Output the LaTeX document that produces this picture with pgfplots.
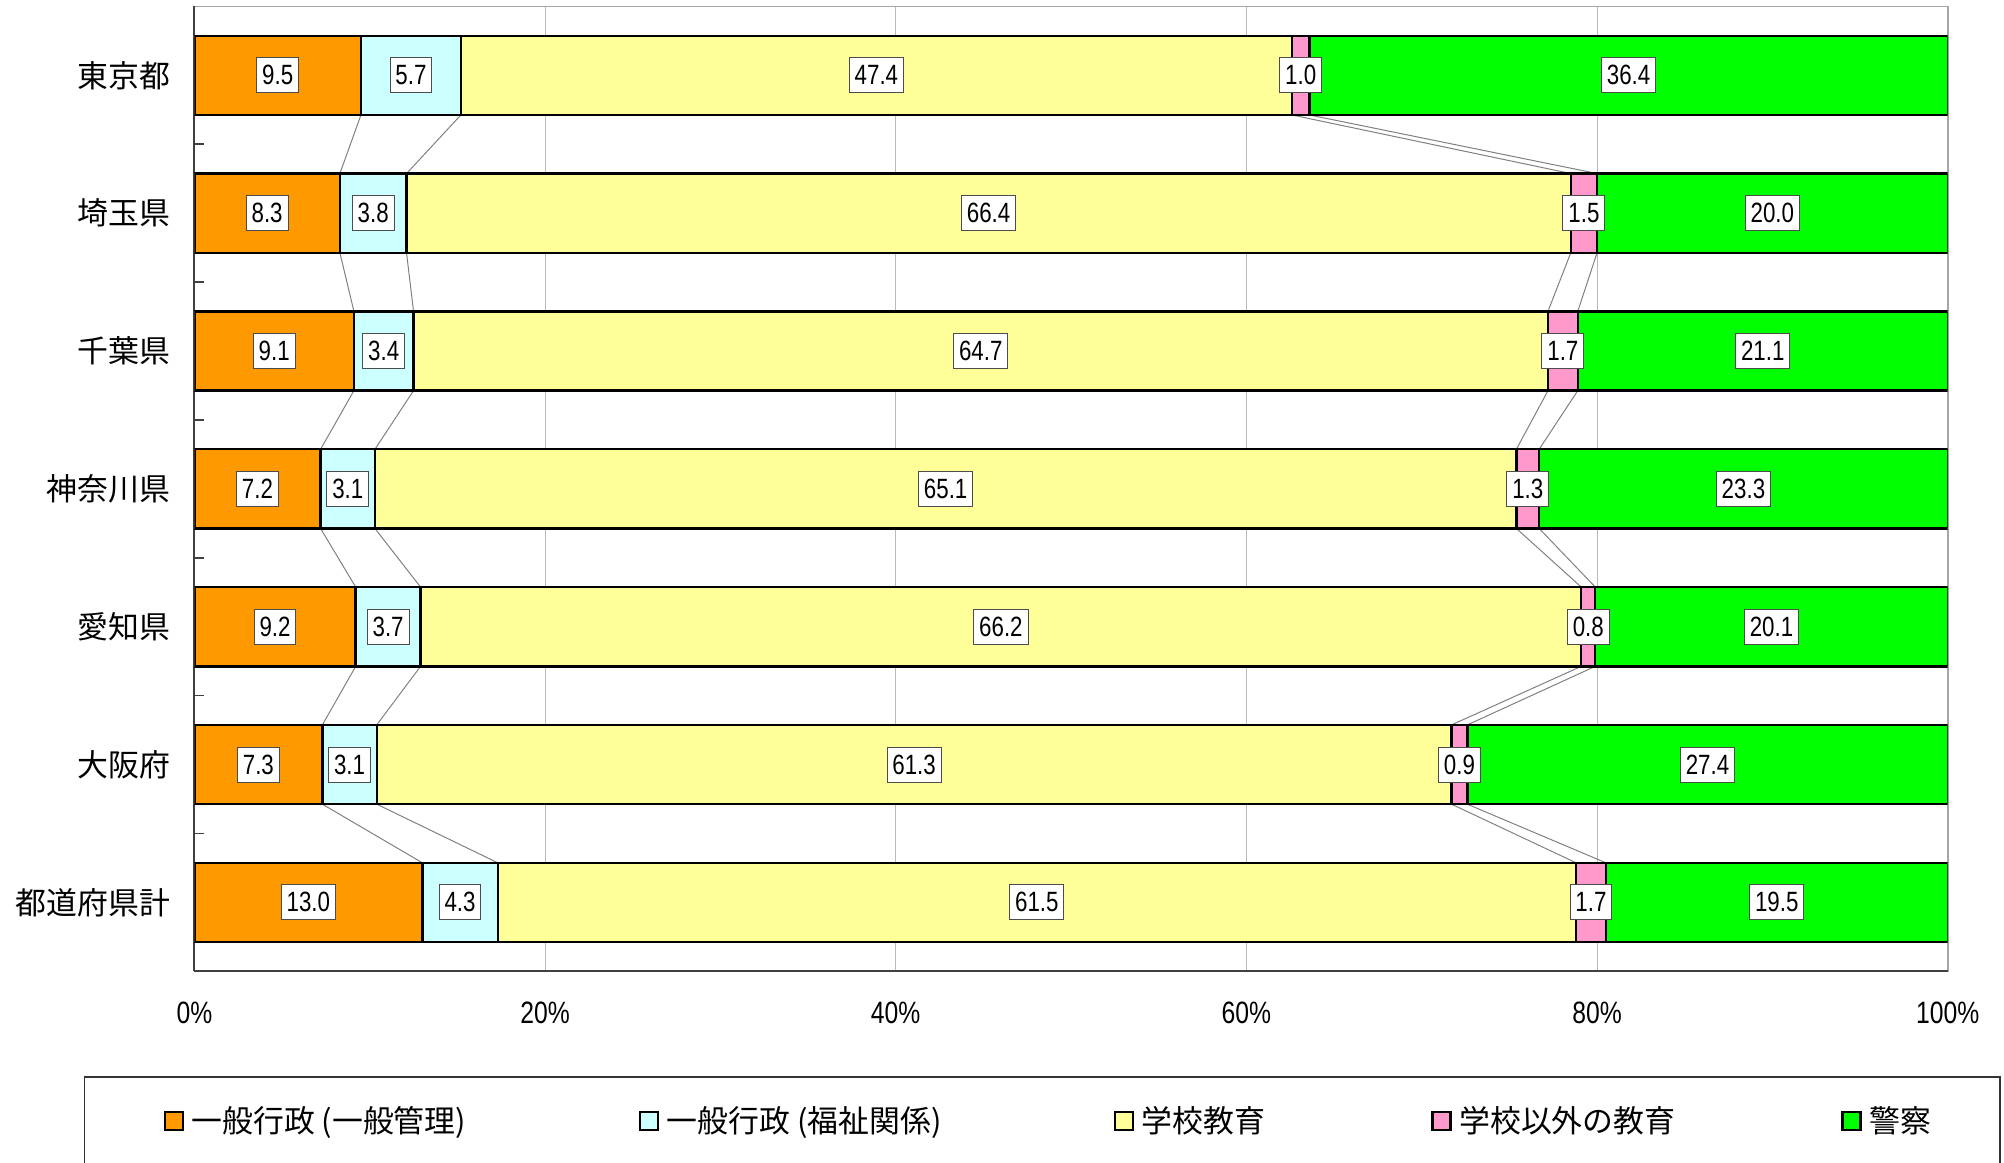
\documentclass[border=0pt]{standalone}
\usepackage{fontspec}
\setmainfont{Liberation Sans}[FakeStretch=0.8]
\newfontfamily\cjk{Noto Sans CJK JP}
\usepackage{pgfplots}
\usepackage{pgfplotstable}
\pgfplotsset{compat=1.18}
\definecolor{c1}{HTML}{FF9900}
\definecolor{c2}{HTML}{CCFFFF}
\definecolor{c3}{HTML}{FFFF99}
\definecolor{c4}{HTML}{FF99CC}
\definecolor{c5}{HTML}{00FF00}
\pgfplotstableread{
idx a b c d e
0 9.5 5.7 47.4 1.0 36.4
1 8.3 3.8 66.4 1.5 20.0
2 9.1 3.4 64.7 1.7 21.1
3 7.2 3.1 65.1 1.3 23.3
4 9.2 3.7 66.2 0.8 20.1
5 7.3 3.1 61.3 0.9 27.4
6 13.0 4.3 61.5 1.7 19.5
}\data
\begin{document}
\begin{tikzpicture}
\useasboundingbox (-97.2bp,-95.4bp) rectangle (904.9bp,485.7bp);
\pgfplotsset{base/.style={at={(0,0)}, anchor=south west, scale only axis,
  width=876.75bp, height=482.5bp, xmin=0, xmax=100, ymin=-0.5, ymax=6.5, y dir=reverse},
  leg/.style={legend image code/.code={\draw[##1, draw=black, line width=1.1pt] (0bp,-4.5bp) rectangle (9bp,4.5bp);}},
  conn/.style={gray, line width=0.5pt, mark=none},
  lbl/.style={draw=none, mark=none, nodes near coords={\pgfplotspointmeta}, point meta=explicit symbolic,
    every node near coord/.style={anchor=center, fill=white, draw=black!70, line width=0.5pt,
      inner sep=2.7bp, minimum height=17.5bp, font=\fontsize{14}{16}\selectfont, text=black}}}
% background axis: frame, grid, tick labels, connector lines
\begin{axis}[base, axis line style={draw=gray!70, line width=0.8pt},
  xtick={0,20,40,60,80,100}, xticklabels={0\%,20\%,40\%,60\%,80\%,100\%},
  xmajorgrids, grid style={gray!55, line width=0.5pt}, major tick length=0pt,
  ytick={0,1,2,3,4,5,6}, yticklabels={東京都,埼玉県,千葉県,神奈川県,愛知県,大阪府,都道府県計},
  yticklabel style={font=\cjk\fontsize{15.5}{18}\selectfont, anchor=east, inner sep=0pt, xshift=-12bp},
  xticklabel style={font=\fontsize{15.5}{18}\selectfont, anchor=center, inner sep=0pt, yshift=-21bp}]
\addplot[conn] coordinates {(9.5,0.2875) (8.3,0.7125) (8.3,1.2875) (9.1,1.7125) (9.1,2.2875) (7.2,2.7125) (7.2,3.2875) (9.2,3.7125) (9.2,4.2875) (7.3,4.7125) (7.3,5.2875) (13.0,5.7125)};
\addplot[conn] coordinates {(15.2,0.2875) (12.1,0.7125) (12.1,1.2875) (12.5,1.7125) (12.5,2.2875) (10.3,2.7125) (10.3,3.2875) (12.9,3.7125) (12.9,4.2875) (10.4,4.7125) (10.4,5.2875) (17.3,5.7125)};
\addplot[conn] coordinates {(62.6,0.2875) (78.5,0.7125) (78.5,1.2875) (77.2,1.7125) (77.2,2.2875) (75.4,2.7125) (75.4,3.2875) (79.1,3.7125) (79.1,4.2875) (71.7,4.7125) (71.7,5.2875) (78.8,5.7125)};
\addplot[conn] coordinates {(63.6,0.2875) (80.0,0.7125) (80.0,1.2875) (78.9,1.7125) (78.9,2.2875) (76.7,2.7125) (76.7,3.2875) (79.9,3.7125) (79.9,4.2875) (72.6,4.7125) (72.6,5.2875) (80.5,5.7125)};
\end{axis}
% bars
\begin{axis}[base, xbar stacked, bar width=0.575,
  axis x line*=bottom, axis y line*=left, axis line style={draw=black!75, line width=1pt},
  xtick=\empty, ytick={0.5,1.5,2.5,3.5,4.5,5.5}, yticklabels={}, tick align=inside,
  major tick length=5bp, tick style={black!75, line width=0.8pt},
  legend columns=5,
  legend style={at={(-0.0175,-0.155)}, anchor=west, draw=none, fill=none, inner sep=0pt, outer sep=0pt,
    font=\cjk\fontsize{15.5}{19}\selectfont,
    /tikz/every odd column/.append style={column sep=1.8bp},
    /tikz/every even column/.append style={column sep=81bp}}]
\addplot[fill=c1, draw=black, line width=1.2pt, leg] table[x=a, y=idx] \data;
\addplot[fill=c2, draw=black, line width=1.2pt, leg] table[x=b, y=idx] \data;
\addplot[fill=c3, draw=black, line width=1.2pt, leg] table[x=c, y=idx] \data;
\addplot[fill=c4, draw=black, line width=1.2pt, leg] table[x=d, y=idx] \data;
\addplot[fill=c5, draw=black, line width=1.2pt, leg] table[x=e, y=idx] \data;
\legend{一般行政\kern0.22em(一般管理)\kern0.22em,一般行政\kern0.22em(福祉関係)\kern0.22em,学校教育,学校以外の教育,警察}
\end{axis}
% value labels
\begin{axis}[base, hide axis]
\addplot[lbl] table[x expr=\thisrow{a}/2, y=idx, meta=a] \data;
\addplot[lbl] table[x expr=\thisrow{a}+\thisrow{b}/2, y=idx, meta=b] \data;
\addplot[lbl] table[x expr=\thisrow{a}+\thisrow{b}+\thisrow{c}/2, y=idx, meta=c] \data;
\addplot[lbl] table[x expr=\thisrow{a}+\thisrow{b}+\thisrow{c}+\thisrow{d}/2, y=idx, meta=d] \data;
\addplot[lbl] table[x expr=\thisrow{a}+\thisrow{b}+\thisrow{c}+\thisrow{d}+\thisrow{e}/2, y=idx, meta=e] \data;
\end{axis}
\draw[black!80, line width=0.6pt] (-55bp,-52.9bp) rectangle (902.9bp,-140bp);
\end{tikzpicture}
\end{document}
